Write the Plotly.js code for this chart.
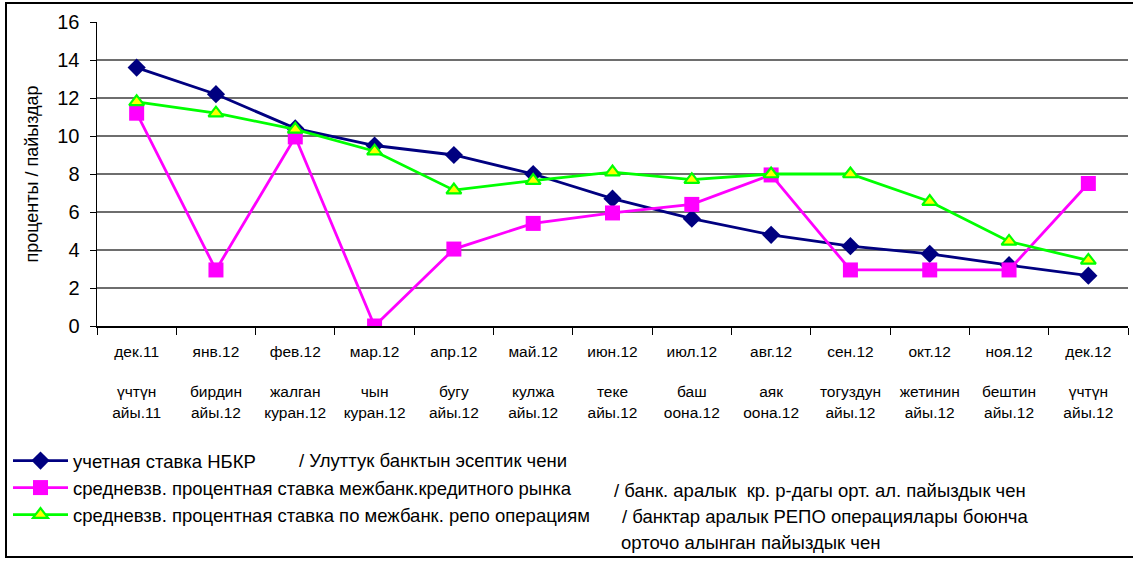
<!DOCTYPE html>
<html>
<head>
<meta charset="utf-8">
<script src="https://cdn.plot.ly/plotly-3.0.1.min.js"></script>
<style>
html,body{margin:0;padding:0;background:#fff;overflow:hidden;}
#wrap{position:relative;width:1133px;height:563px;overflow:hidden;}
#chart{width:1133px;height:563px;}
#frame{position:absolute;left:5px;top:2px;width:1128px;height:556px;border:2px solid #000;border-right:none;box-sizing:border-box;pointer-events:none;}
</style>
</head>
<body>
<div id="wrap">
<div id="chart"></div>
<div id="frame"></div>
</div>
<script>
// Categories (Russian month labels) and Kyrgyz month labels
const months = ["дек.11","янв.12","фев.12","мар.12","апр.12","май.12","июн.12","июл.12","авг.12","сен.12","окт.12","ноя.12","дек.12"];
const kgLine1 = ["үчтүн","бирдин","жалган","чын","бугу","кулжа","теке","баш","аяк","тогуздун","жетинин","бештин","үчтүн"];
const kgLine2 = ["айы.11","айы.12","куран.12","куран.12","айы.12","айы.12","айы.12","оона.12","оона.12","айы.12","айы.12","айы.12","айы.12"];

// Series values (percent)
const discountRate = [13.6, 12.2, 10.4, 9.5, 9.0, 8.0, 6.7, 5.65, 4.8, 4.2, 3.8, 3.2, 2.65];
const interbankCredit = [11.2, 2.95, 9.95, 0.0, 4.05, 5.4, 5.95, 6.4, 7.95, 2.95, 2.95, 2.95, 7.5];
const interbankRepo = [11.8, 11.2, 10.35, 9.2, 7.15, 7.65, 8.1, 7.7, 8.0, 8.0, 6.55, 4.45, 3.45];

// Legend texts
const seriesNames = [
  "учетная ставка НБКР",
  "средневзв. процентная ставка межбанк.кредитного рынка",
  "средневзв. процентная ставка по межбанк. репо операциям"
];
const seriesNamesKg = [
  "/ Улуттук банктын эсептик чени",
  "/ банк. аралык  кр. р-дагы орт. ал. пайыздык чен",
  "/ банктар аралык РЕПО операциялары боюнча",
  "орточо алынган пайыздык чен"
];
const yTitle = "проценты / пайыздар";
const yTicks = [0, 2, 4, 6, 8, 10, 12, 14, 16];

const FONT = "Liberation Sans, Arial, sans-serif";
const tickText = months.map((m, i) => m + "<br><br>" + kgLine1[i] + "<br>" + kgLine2[i]);

const traces = [
  {
    x: months, y: discountRate, name: seriesNames[0], type: "scatter", mode: "lines+markers",
    line: {color: "#000080", width: 2.8},
    marker: {symbol: "diamond", size: 14, color: "#000080", line: {color: "#000080", width: 0}},
    legendgroup: "a"
  },
  {
    x: months, y: interbankCredit, name: seriesNames[1], type: "scatter", mode: "lines+markers",
    line: {color: "#FF00FF", width: 2.8},
    marker: {symbol: "square", size: 15, color: "#FF00FF", line: {color: "#FF00FF", width: 0}},
    legendgroup: "b"
  },
  {
    x: months, y: interbankRepo, name: seriesNames[2], type: "scatter", mode: "lines+markers",
    line: {color: "#00FF00", width: 2.8},
    marker: {symbol: "triangle-up", size: 13, color: "#FFFF00", line: {color: "#00FF00", width: 2.2}},
    legendgroup: "c"
  }
];

// pixel -> paper helpers for decoration placement (plot area 97..1128 x, 22..326 y)
const L = 97, R = 1128, T = 22, B = 326;
const px = v => (v - L) / (R - L);
const py = v => (B - v) / (B - T);

const layout = {
  width: 1133, height: 563,
  margin: {l: L, r: 1133 - R, t: T, b: 563 - B, pad: 0},
  paper_bgcolor: "#ffffff",
  plot_bgcolor: "#ffffff",
  font: {family: FONT, color: "#000", size: 15},
  showlegend: true,
  legend: {
    x: px(8), y: py(442), xanchor: "left", yanchor: "top",
    orientation: "v", traceorder: "grouped", tracegroupgap: 0,
    font: {family: FONT, size: 18.5, color: "#000"},
    bgcolor: "rgba(0,0,0,0)", borderwidth: 0, itemwidth: 55
  },
  xaxis: {
    type: "category",
    tickmode: "array", tickvals: months, ticktext: tickText,
    tickson: "boundaries", ticks: "outside", ticklen: 7, tickwidth: 1, tickcolor: "#000",
    showline: true, linecolor: "#000", linewidth: 1.5,
    showgrid: false, zeroline: false,
    tickfont: {family: FONT, size: 15.5, color: "#000"},
    tickangle: 0, ticklabelstandoff: 11,
    range: [-0.5, 12.5], fixedrange: true
  },
  yaxis: {
    range: [0, 16], tickmode: "array", tickvals: yTicks,
    ticks: "outside", ticklen: 6, tickwidth: 1, tickcolor: "#000",
    showline: true, linecolor: "#000", linewidth: 1.5,
    showgrid: true, gridcolor: "#6e6e6e", gridwidth: 1.5,
    zeroline: false,
    tickfont: {family: FONT, size: 20, color: "#000"},
    ticklabelstandoff: 6,
    title: {text: yTitle, font: {family: FONT, size: 18, color: "#000"}, standoff: 14},
    fixedrange: true
  },
  annotations: [
    {text: seriesNamesKg[0], xref: "paper", yref: "paper", x: px(297), y: py(460), xanchor: "left", yanchor: "middle", showarrow: false, font: {family: FONT, size: 18.5}},
    {text: seriesNamesKg[1], xref: "paper", yref: "paper", x: px(612), y: py(490), xanchor: "left", yanchor: "middle", showarrow: false, font: {family: FONT, size: 18.5}},
    {text: seriesNamesKg[2], xref: "paper", yref: "paper", x: px(620), y: py(516), xanchor: "left", yanchor: "middle", showarrow: false, font: {family: FONT, size: 18.5}},
    {text: seriesNamesKg[3], xref: "paper", yref: "paper", x: px(619), y: py(542), xanchor: "left", yanchor: "middle", showarrow: false, font: {family: FONT, size: 18.5}}
  ]
};

Plotly.newPlot("chart", traces, layout, {displayModeBar: false, staticPlot: true});
</script>
</body>
</html>
